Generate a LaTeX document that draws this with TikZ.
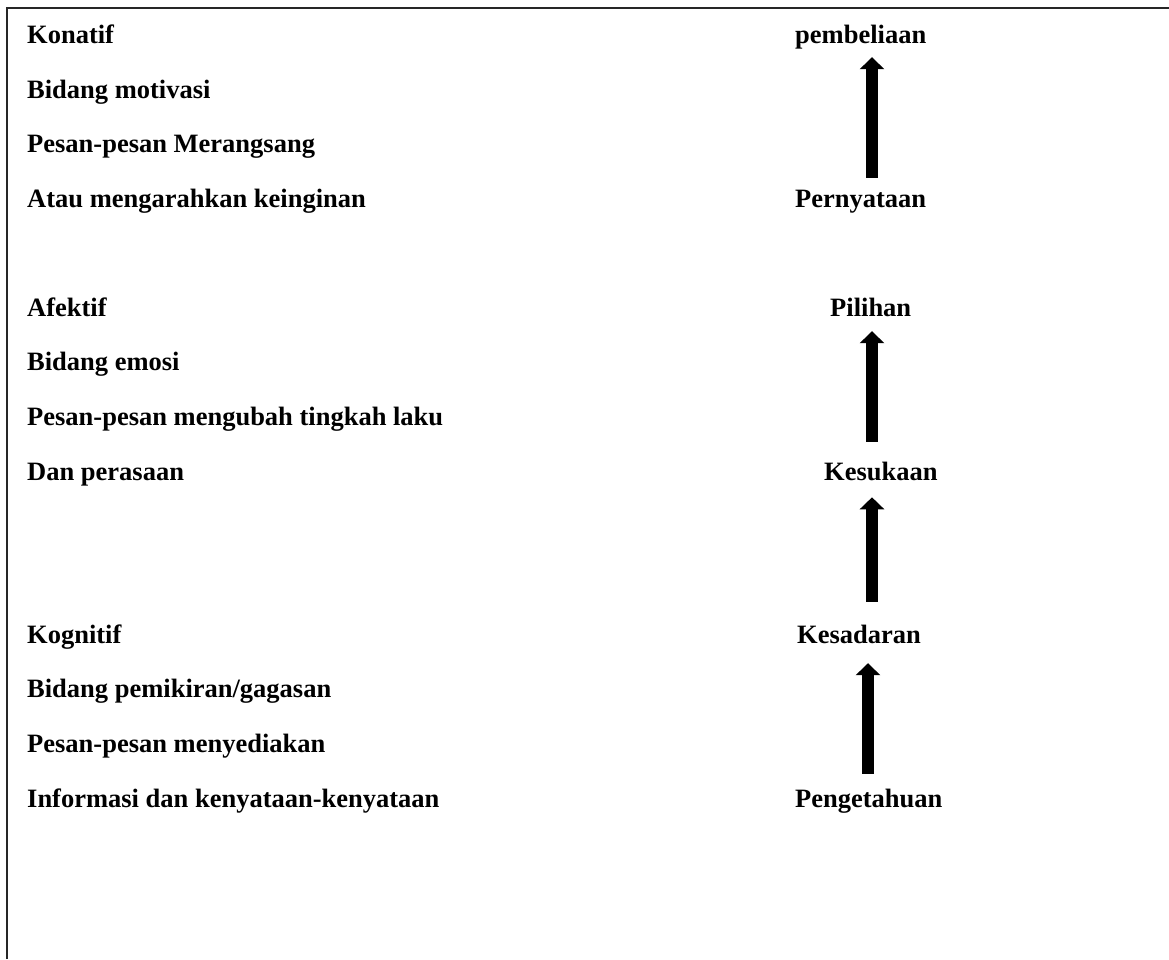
\documentclass[tikz,border=0pt]{standalone}
\usepackage{fontspec}
\setmainfont{Liberation Serif}
\usetikzlibrary{arrows.meta}
\usetikzlibrary{positioning}

\begin{document}
\begin{tikzpicture}[x=1pt,y=-1pt,
					font=\fontsize{26.5}{32}\selectfont\bfseries]
					\tikzstyle{every node}=[inner sep=0pt,text height=18pt,text depth=6pt,anchor=base west]
					\tikzstyle{uparrow}=[line width=11.5pt,-{Triangle[width=24pt,length=12pt]}]
					\tikzset{row/.style={below=54.7pt of #1.base west,anchor=base west}}
					
					\useasboundingbox (0,0) rectangle (1169,959);
					\draw[line width=1.6pt,black!85] (7,959) -- (7,8) -- (1169,8);
					
					% left column
					\node (konatif) at (27,43.5) {Konatif};
					\node (motivasi) [row=konatif] {Bidang motivasi};
					\node (merangsang) [row=motivasi] {Pesan-pesan Merangsang};
					\node (keinginan) [row=merangsang] {Atau mengarahkan keinginan};
					
					\node (afektif) at (27,316) {Afektif};
					\node (emosi) [row=afektif] {Bidang emosi};
					\node (mengubah) [row=emosi] {Pesan-pesan mengubah tingkah laku};
					\node (perasaan) [row=mengubah] {Dan perasaan};
					
					\node (kognitif) at (27,643) {Kognitif};
					\node (pemikiran) [row=kognitif] {Bidang pemikiran/gagasan};
					\node (menyediakan) [row=pemikiran] {Pesan-pesan menyediakan};
					\node (informasi) [row=menyediakan] {Informasi dan kenyataan-kenyataan};
					
					% right column
					\coordinate (rcol) at (795,0);
					\node (pembeliaan) at (konatif.base -| rcol) {pembeliaan};
					\node (pernyataan) at (keinginan.base -| rcol) {Pernyataan};
					\node (pilihan) [xshift=35pt] at (afektif.base -| rcol) {Pilihan};
					\node (kesukaan) [xshift=29pt] at (perasaan.base -| rcol) {Kesukaan};
					\node (kesadaran) [xshift=2pt] at (kognitif.base -| rcol) {Kesadaran};
					\node (pengetahuan) at (informasi.base -| rcol) {Pengetahuan};
					
					\coordinate (axis) at (872,0);
					\coordinate (axisb) at (868,0);
					\draw[uparrow,shorten <=11.6pt,shorten >=7.5pt] (pernyataan.north -| axis) -- (pembeliaan.south -| axis);
					\draw[uparrow,shorten <=20pt,shorten >=9pt] (kesukaan.north -| axis) -- (pilihan.south -| axis);
					\draw[uparrow,shorten <=23pt,shorten >=11pt] (kesadaran.north -| axis) -- (kesukaan.south -| axis);
					\draw[uparrow,shorten <=15pt,shorten >=14pt] (pengetahuan.north -| axisb) -- (kesadaran.south -| axisb);
\end{tikzpicture}
\end{document}
